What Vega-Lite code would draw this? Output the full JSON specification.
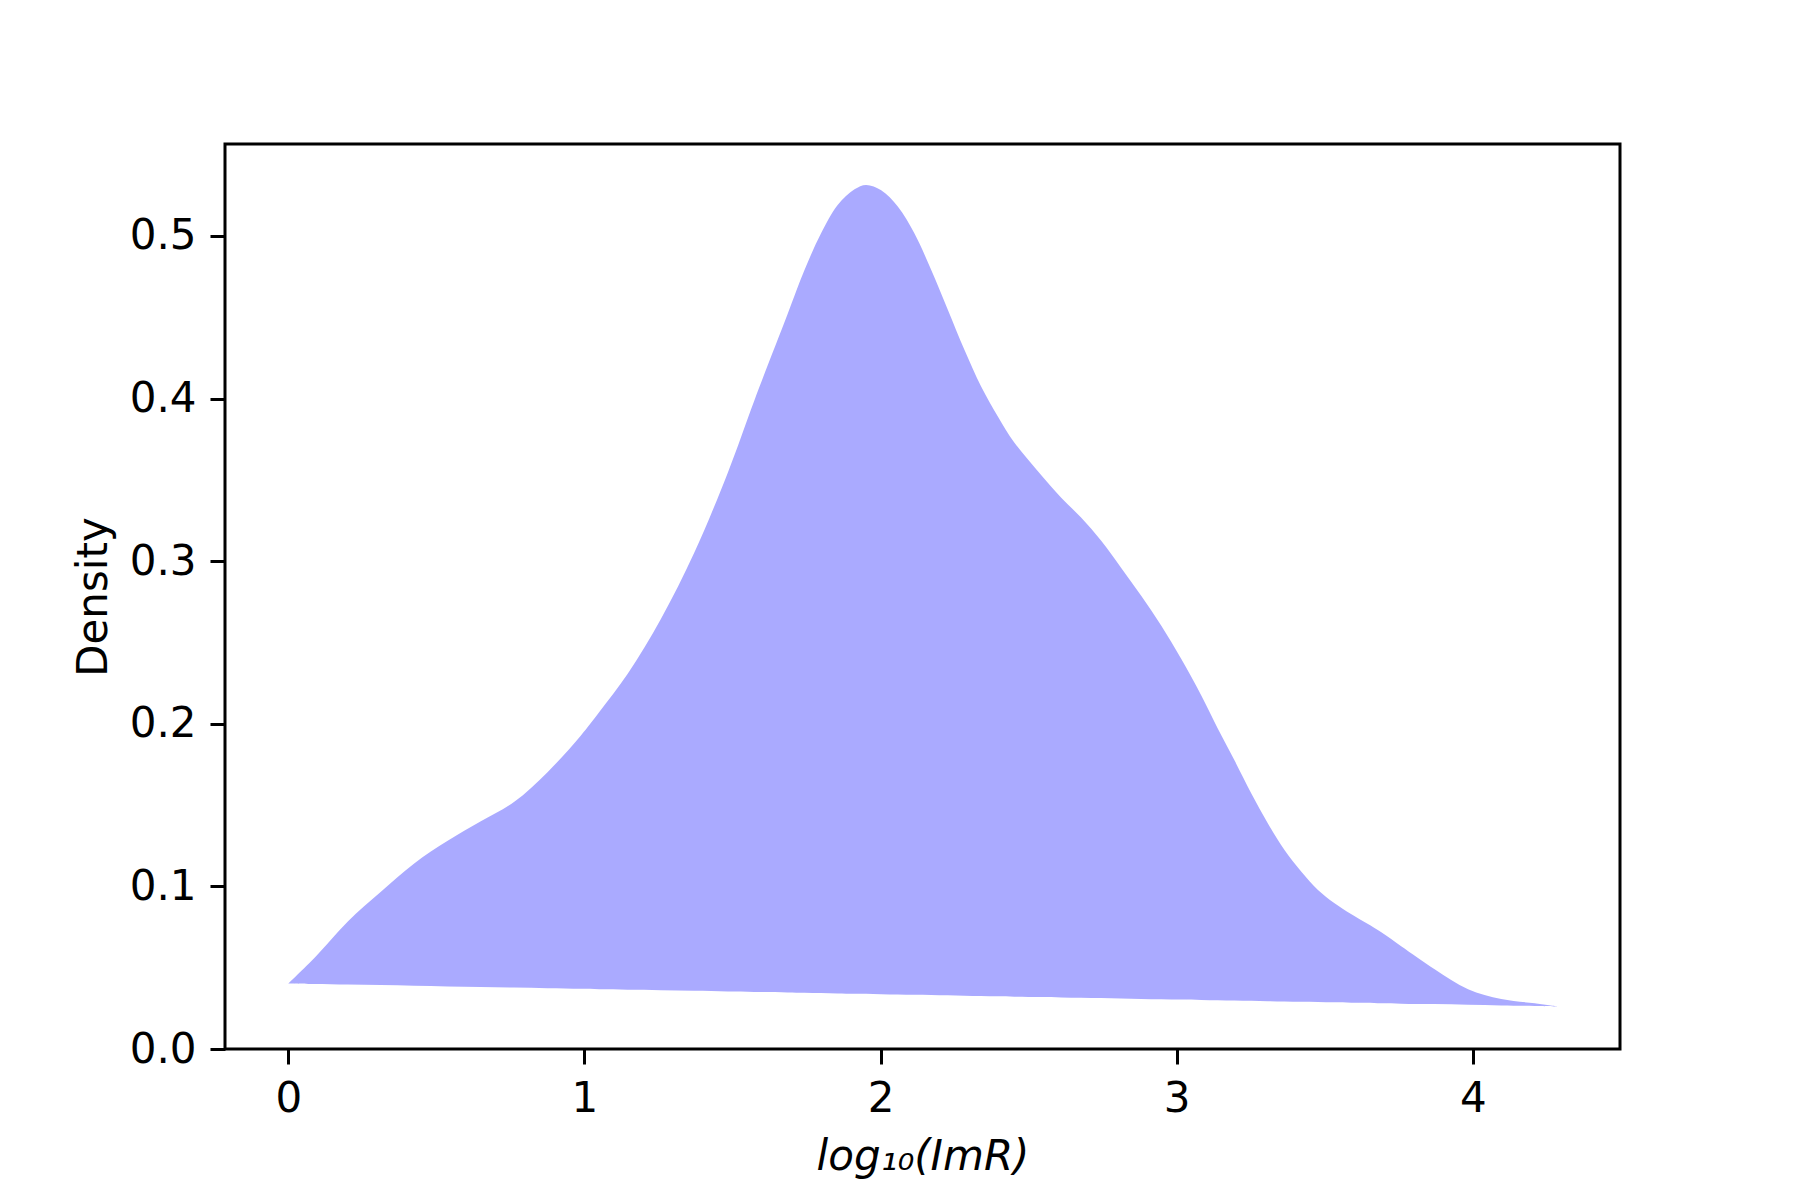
{
  "$schema": "https://vega.github.io/schema/vega-lite/v6.json",
  "description": "Kernel density of log10(ImR), drawn as a closed filled polygon.",
  "width": 1395,
  "height": 905,
  "autosize": {"type": "none"},
  "padding": {"left": 225, "top": 144, "right": 180, "bottom": 151},
  "background": "white",
  "data": {
    "values": [
      {"x": 0.0, "density": 0.0403, "base": 0.0403},
      {"x": 0.087, "density": 0.0558, "base": 0.04},
      {"x": 0.2, "density": 0.0783, "base": 0.0396},
      {"x": 0.3125, "density": 0.0967, "base": 0.0393},
      {"x": 0.425, "density": 0.1141, "base": 0.0389},
      {"x": 0.538, "density": 0.128, "base": 0.0385},
      {"x": 0.65, "density": 0.14, "base": 0.0382},
      {"x": 0.763, "density": 0.152, "base": 0.0378},
      {"x": 0.876, "density": 0.1704, "base": 0.0374},
      {"x": 0.988, "density": 0.1928, "base": 0.037},
      {"x": 1.05, "density": 0.2072, "base": 0.0368},
      {"x": 1.146, "density": 0.2307, "base": 0.0365},
      {"x": 1.258, "density": 0.2644, "base": 0.0362},
      {"x": 1.371, "density": 0.3053, "base": 0.0358},
      {"x": 1.484, "density": 0.3544, "base": 0.0354},
      {"x": 1.574, "density": 0.399, "base": 0.0351},
      {"x": 1.686, "density": 0.452, "base": 0.0348},
      {"x": 1.743, "density": 0.479, "base": 0.0346},
      {"x": 1.799, "density": 0.5016, "base": 0.0344},
      {"x": 1.855, "density": 0.519, "base": 0.0342},
      {"x": 1.912, "density": 0.5286, "base": 0.034},
      {"x": 1.951, "density": 0.5313, "base": 0.0339},
      {"x": 2.002, "density": 0.528, "base": 0.0337},
      {"x": 2.058, "density": 0.518, "base": 0.0335},
      {"x": 2.114, "density": 0.5016, "base": 0.0333},
      {"x": 2.171, "density": 0.479, "base": 0.0332},
      {"x": 2.227, "density": 0.4546, "base": 0.033},
      {"x": 2.283, "density": 0.43, "base": 0.0328},
      {"x": 2.339, "density": 0.4076, "base": 0.0326},
      {"x": 2.396, "density": 0.389, "base": 0.0324},
      {"x": 2.452, "density": 0.3728, "base": 0.0322},
      {"x": 2.542, "density": 0.353, "base": 0.0319},
      {"x": 2.61, "density": 0.339, "base": 0.0317},
      {"x": 2.677, "density": 0.3268, "base": 0.0315},
      {"x": 2.745, "density": 0.3125, "base": 0.0313},
      {"x": 2.812, "density": 0.296, "base": 0.031},
      {"x": 2.88, "density": 0.2787, "base": 0.0308},
      {"x": 2.948, "density": 0.2603, "base": 0.0306},
      {"x": 3.015, "density": 0.2399, "base": 0.0304},
      {"x": 3.083, "density": 0.2174, "base": 0.0302},
      {"x": 3.139, "density": 0.1969, "base": 0.03},
      {"x": 3.195, "density": 0.1775, "base": 0.0298},
      {"x": 3.252, "density": 0.1571, "base": 0.0296},
      {"x": 3.308, "density": 0.1387, "base": 0.0294},
      {"x": 3.364, "density": 0.1223, "base": 0.0292},
      {"x": 3.421, "density": 0.109, "base": 0.029},
      {"x": 3.477, "density": 0.0978, "base": 0.0289},
      {"x": 3.533, "density": 0.0896, "base": 0.0287},
      {"x": 3.59, "density": 0.0828, "base": 0.0285},
      {"x": 3.691, "density": 0.0718, "base": 0.0282},
      {"x": 3.758, "density": 0.0632, "base": 0.0279},
      {"x": 3.871, "density": 0.0491, "base": 0.0276},
      {"x": 3.984, "density": 0.0368, "base": 0.0272},
      {"x": 4.096, "density": 0.0307, "base": 0.0268},
      {"x": 4.209, "density": 0.0281, "base": 0.0265},
      {"x": 4.285, "density": 0.0262, "base": 0.0262}
    ]
  },
  "mark": {"type": "area", "color": "#aaaaff", "opacity": 1, "interpolate": "catmull-rom"},
  "encoding": {
    "x": {
      "field": "x",
      "type": "quantitative",
      "scale": {"domain": [-0.214, 4.497], "nice": false, "zero": false},
      "axis": {"values": [0, 1, 2, 3, 4], "format": "d", "title": "log₁₀(ImR)", "titleFontStyle": "italic", "titlePadding": 17}
    },
    "y": {
      "field": "density",
      "type": "quantitative",
      "scale": {"domain": [0, 0.5565], "nice": false},
      "axis": {"values": [0, 0.1, 0.2, 0.3, 0.4, 0.5], "format": ".1f", "title": "Density", "titlePadding": 14}
    },
    "y2": {"field": "base"}
  },
  "config": {
    "font": "DejaVu Sans",
    "view": {"stroke": "black", "strokeWidth": 3},
    "axis": {
      "grid": false,
      "domain": false,
      "ticks": true,
      "tickColor": "black",
      "tickSize": 15,
      "tickWidth": 3,
      "labelFont": "DejaVu Sans",
      "labelFontSize": 42,
      "labelColor": "black",
      "labelPadding": 14,
      "titleFont": "DejaVu Sans",
      "titleFontSize": 42,
      "titleFontWeight": "normal",
      "titleColor": "black"
    }
  }
}
